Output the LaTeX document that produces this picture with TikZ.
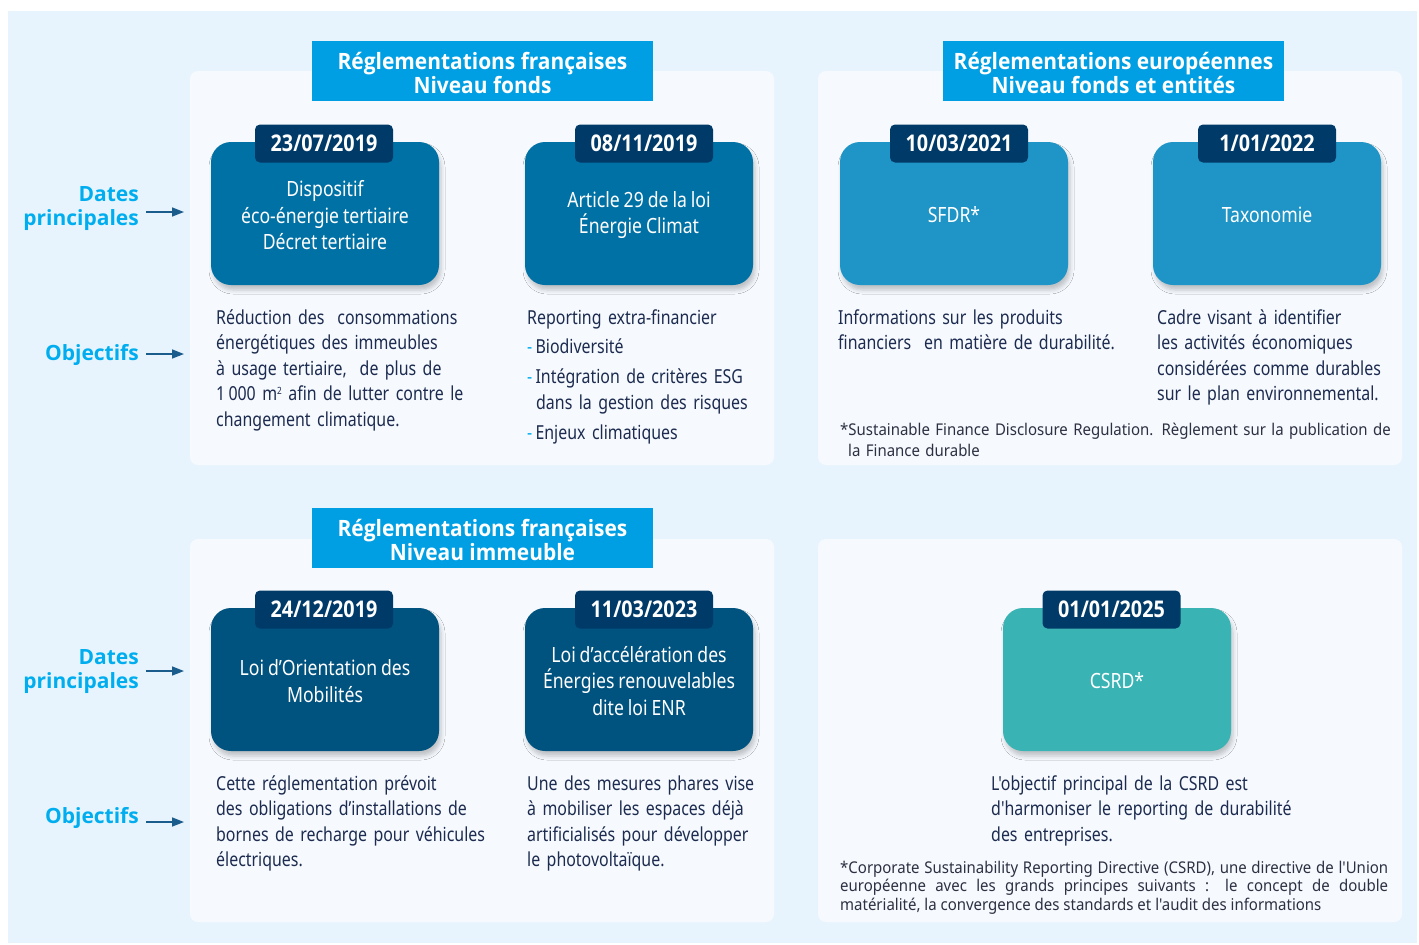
\documentclass[tikz,border=0pt]{standalone}
\usepackage{fontspec}
\setmainfont{Noto Sans}
\newfontfamily\cnd[FakeStretch=0.84,WordSpace=0.85]{Noto Sans}
\newfontfamily\bdy[FakeStretch=0.825,WordSpace=0.65]{Noto Sans}
\newfontfamily\fnt[FakeStretch=0.925]{Noto Sans}
\IfFontExistsTF{Noto Sans Bold}{%
  \newfontfamily\hdr[FakeStretch=0.86]{Noto Sans Bold}%
  \newfontfamily\hdrw[FakeStretch=0.93]{Noto Sans Bold}%
  \newfontfamily\labf{Noto Sans Bold}}{%
  \IfFontExistsTF{Open Sans Bold}{%
    \newfontfamily\hdr[FakeStretch=0.86]{Open Sans Bold}%
    \newfontfamily\hdrw[FakeStretch=0.93]{Open Sans Bold}%
    \newfontfamily\labf{Open Sans Bold}}{%
    \newfontfamily\hdr[FakeStretch=0.86,FakeBold=2.5]{Noto Sans}%
    \newfontfamily\hdrw[FakeStretch=0.93,FakeBold=2.5]{Noto Sans}%
    \newfontfamily\labf[FakeBold=2.5]{Noto Sans}}}
\usetikzlibrary{arrows.meta,shadows.blur}
\definecolor{outerbg}{HTML}{E8F4FD}
\definecolor{panelbg}{HTML}{F6FAFE}
\definecolor{hdrblue}{HTML}{009FE3}
\definecolor{tabnavy}{HTML}{003A68}
\definecolor{cardA}{HTML}{0071A5}
\definecolor{cardB}{HTML}{1E95C6}
\definecolor{cardC}{HTML}{00527F}
\definecolor{cardD}{HTML}{3AB3B5}
\definecolor{labcyan}{HTML}{00AEEF}
\definecolor{arrblue}{HTML}{1A5C8C}
\definecolor{bodyC}{HTML}{1C2B4F}
\definecolor{noteC}{HTML}{2C3042}
\begin{document}
\begin{tikzpicture}[x=1pt,y=-1pt,
  panel/.style={fill=panelbg, rounded corners=8pt, minimum width=584pt, inner sep=0pt},
  hdrbox/.style={fill=hdrblue, minimum width=341pt, minimum height=60pt, inner sep=0pt},
  hdrtxt/.style={text=white, align=center, inner sep=0pt, font=\hdrw\fontsize{22.5}{24}\selectfont},
  card/.style={fill=#1, rounded corners=20pt, minimum width=228pt, minimum height=143pt,
    inner sep=0pt,
    blur shadow={shadow xshift=2pt, shadow yshift=-5pt, shadow blur radius=4pt, shadow opacity=22}},
  cardtxt/.style={text=white, align=center, inner sep=0pt, font=\cnd\fontsize{21}{26.5}\selectfont},
  datetab/.style={fill=tabnavy, rounded corners=5pt, minimum width=138pt, minimum height=38pt,
    inner sep=0pt, text=white, font=\hdr\fontsize{23}{24}\selectfont},
  lab/.style={text=labcyan, align=right, anchor=east, inner sep=0pt,
    font=\labf\fontsize{21}{24}\selectfont},
  body/.style={text=bodyC, align=left, anchor=base west, inner sep=0pt, text width=#1,
    font=\bdy\fontsize{19.3}{25.5}\selectfont},
  body/.default=300pt,
  note/.style={text=noteC, anchor=base west, inner sep=0pt,
    font=\fnt\fontsize{16.2}{#1}\selectfont},
  arr/.style={draw=arrblue, line width=1.6pt, -{Triangle[length=12pt,width=9pt]}}
]
\useasboundingbox (0,0) rectangle (1419,945);
\fill[white] (0,0) rectangle (1419,945);
\fill[outerbg] (8,11) rectangle (1417,943);

% panels
\node[panel, minimum height=394pt] (p1) at (482,268) {};
\node[panel, minimum height=394pt] (p2) at (1110,268) {};
\node[panel, minimum height=383pt] (p3) at (482,730.5) {};
\node[panel, minimum height=383pt] (p4) at (1110,730.5) {};

% headers
\node[hdrbox] (h1) at (482.5,71) {};
\node[hdrbox] (h2) at (1113.5,71) {};
\node[hdrbox] (h3) at (482.5,538) {};
\node[hdrtxt] (ht1) at ([yshift=-2pt]h1.center) {Réglementations françaises\\Niveau fonds};
\node[hdrtxt] (ht2) at ([yshift=-2pt]h2.center) {Réglementations européennes\\Niveau fonds et entités};
\node[hdrtxt] (ht3) at ([yshift=-2pt]h3.center) {Réglementations françaises\\Niveau immeuble};

% cards top row
\node[card=cardA] (c1) at (325,213.5) {};
\node[card=cardA] (c2) at (639,213.5) {};
\node[card=cardB] (c3) at (954,213.5) {};
\node[card=cardB] (c4) at (1267,213.5) {};
% cards bottom row
\node[card=cardC] (c5) at (325,679.5) {};
\node[card=cardC] (c6) at (639,679.5) {};
\node[card=cardD] (c7) at (1117,679.5) {};
% card texts
\node[cardtxt] (k1) at ([yshift=-2pt]c1.center) {Dispositif\\éco-énergie tertiaire\\Décret tertiaire};
\node[cardtxt] (k2) at ([yshift=-1.5pt]c2.center) {Article 29 de la loi\\Énergie Climat};
\node[cardtxt] (k3) at ([yshift=-1.5pt]c3.center) {SFDR*};
\node[cardtxt] (k4) at ([yshift=-1.5pt]c4.center) {Taxonomie};
\node[cardtxt] (k5) at ([yshift=-1.5pt]c5.center) {Loi d’Orientation des\\Mobilités};
\node[cardtxt] (k6) at ([yshift=-1.5pt]c6.center) {Loi d’accélération des\\Énergies renouvelables\\dite loi ENR};
\node[cardtxt] (k7) at ([yshift=-1.5pt]c7.center) {CSRD*};

% date tabs
\node[datetab] (t1) at (324,143.5) {23/07/2019};
\node[datetab] (t2) at (644,143.5) {08/11/2019};
\node[datetab] (t3) at (959,143.5) {10/03/2021};
\node[datetab] (t4) at (1267,143.5) {1/01/2022};
\node[datetab] (t5) at (324,609.5) {24/12/2019};
\node[datetab] (t6) at (644,609.5) {11/03/2023};
\node[datetab] (t7) at (1111.5,609.5) {01/01/2025};

% left labels
\node[lab] (L1) at (139,209) {Dates\\principales};
\node[lab] (L2) at (139,355) {Objectifs};
\node[lab] (L3) at (139,672) {Dates\\principales};
\node[lab] (L4) at (139,818) {Objectifs};
\coordinate (a1) at (184,212);
\coordinate (a2) at (184,354);
\coordinate (a3) at (184,671);
\coordinate (a4) at (184,822);
\draw[arr] (L1.east |- a1) ++(7,0) -- (a1);
\draw[arr] (L2.east |- a2) ++(7,0) -- (a2);
\draw[arr] (L3.east |- a3) ++(7,0) -- (a3);
\draw[arr] (L4.east |- a4) ++(7,0) -- (a4);

% objectives
\node[body] (o1) at (216,324) {Réduction des\ \ consommations\\énergétiques des immeubles\\à usage tertiaire,\ \ de plus de\\1\,000 m\raisebox{6pt}{\fontsize{10}{10}\selectfont 2} afin de lutter contre le\\changement climatique.};
\node[body] (o2) at (527,324) {Reporting extra-financier\\[4pt]
\textcolor{labcyan}{-}\,Biodiversité\\[4.5pt]
\textcolor{labcyan}{-}\,Intégration de critères ESG\\
\hspace*{9pt}dans la gestion des risques\\[4.5pt]
\textcolor{labcyan}{-}\,Enjeux climatiques};
\node[body] (o3) at (838,324) {Informations sur les produits\\financiers\ \ en matière de durabilité.};
\node[body] (o4) at (1157,324) {Cadre visant à identifier\\les activités économiques\\considérées comme durables\\sur le plan environnemental.};
\node[body] (o5) at (216,790) {Cette réglementation prévoit\\des obligations d’installations de\\bornes de recharge pour véhicules\\électriques.};
\node[body] (o6) at (527,790) {Une des mesures phares vise\\à mobiliser les espaces déjà\\artificialisés pour développer\\le photovoltaïque.};
\node[body=400pt] (o7) at (991,790) {L'objectif principal de la CSRD est\\d'harmoniser le reporting de durabilité\\des entreprises.};

% footnotes
\node[note=21, align=left, text width=600pt] (f1) at (840,435.5) {*Sustainable Finance Disclosure Regulation. Règlement sur la publication de\\\hspace*{8pt}la Finance durable};
\node[note=18.6, align=justify, text width=548pt] (f2) at (840,873) {*Corporate Sustainability Reporting Directive (CSRD), une directive de l'Union\linebreak européenne avec les grands principes suivants : le concept de double\linebreak matérialité, la convergence des standards et l'audit des informations};
\end{tikzpicture}
\end{document}
